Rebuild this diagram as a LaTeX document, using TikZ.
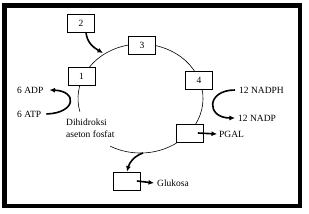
\documentclass[tikz,border=0pt]{standalone}
\usepackage{fontspec}
\setmainfont{Liberation Serif}
\usetikzlibrary{arrows.meta}

\begin{document}
\begin{tikzpicture}[
  x=1pt, y=1pt,
  font=\fontsize{9.5}{12}\selectfont,
  bx/.style  ={draw=black, line width=0.8pt, fill=white, inner sep=0pt,
               minimum width=27pt, minimum height=18pt},
  lbl/.style ={inner sep=0pt, anchor=west},
  cyc/.style ={draw=black, line width=0.6pt},
  ar/.style  ={-{Latex[length=5.5pt,width=5pt]}, line width=1.6pt},
]
\useasboundingbox (0,0) rectangle (309,-214);

% ---- frame ----
\draw[line width=4.5pt] (4.5,-5.5) rectangle (300,-206);

% ---- cycle ----
\draw[cyc] (140.5,-98.5) ++(241:62.5pt and 54.5pt)
  arc[start angle=241, end angle=554, x radius=62.5pt, y radius=54.5pt];
\coordinate (j23) at (103,-53);
\coordinate (jb)  at (143,-153);

% ---- boxes ----
\node[bx] (b2) at ( 81.0, -23.0) {2};
\node[bx] (b3) at (142.0, -45.5) {3};
\node[bx] (b1) at ( 81.5, -76.5) {1};
\node[bx] (b4) at (199.0, -80.5) {4};
\node[bx] (bp) at (190.0,-133.0) {};
\node[bx] (bg) at (127.0,-181.0) {};

% ---- labels ----
\node[lbl] (adp)   at ( 17, -90) {6 ADP};
\node[lbl] (atp)   at ( 17,-114) {6 ATP};
\node[lbl] (nadph) at (239, -90) {12 NADPH};
\node[lbl] (nadp)  at (238,-118) {12 NADP};
\node[lbl] (pgal)  at (219,-134) {PGAL};
\node[lbl] (glu)   at (157,-183) {Glukosa};
\node[inner sep=0pt, anchor=north west, align=left] (dhap) at (66,-118.5)
  {Dihidroksi\\aseton fosfat};

% ---- edges ----
\draw[ar] ([xshift=5pt]b2.south) to[out=-85, in=150] (j23);
\draw[ar] ([xshift=5pt]atp.east) .. controls +(30,1) and +(28,-1) .. ([xshift=6pt]adp.east);
\draw[ar] ([xshift=-4pt]nadph.west) .. controls +(-29,0) and +(-29,0) .. ([xshift=-3pt]nadp.west);
\draw[ar] ([xshift=-6pt]bp.east) -- ([xshift=-2pt]pgal.west);
\draw[ar] (jb) to[out=200, in=75] (bg.north);
\draw[ar] ([xshift=-4pt]bg.east) -- ([xshift=-3pt]glu.west);
\end{tikzpicture}
\end{document}
